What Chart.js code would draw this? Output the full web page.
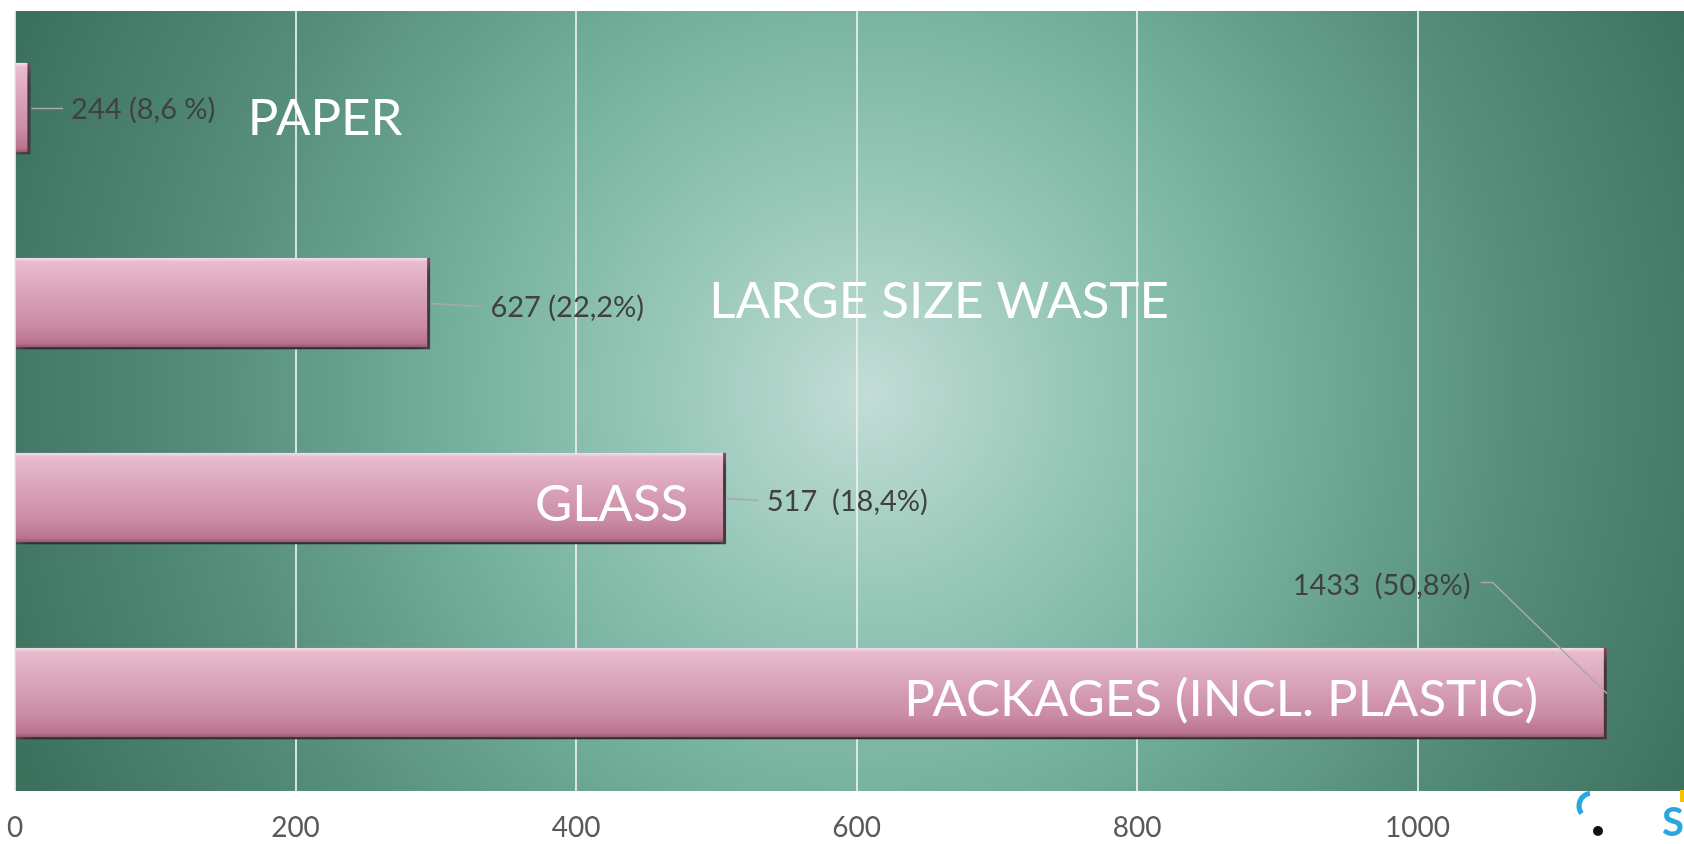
<!DOCTYPE html>
<html>
<head>
<meta charset="utf-8">
<script src="https://cdn.jsdelivr.net/npm/chart.js@4.4.0/dist/chart.umd.min.js"></script>
<style>
  html, body { margin: 0; padding: 0; background: #ffffff; }
  #wrap { width: 1684px; height: 844px; position: relative; }
</style>
</head>
<body>
<div id="wrap"><canvas id="waste-chart" width="1684" height="844"></canvas></div>
<script>
// data
var categories = ['PAPER', 'LARGE SIZE WASTE', 'GLASS', 'PACKAGES (INCL. PLASTIC)'];
var barValues = [11, 296, 507, 1135];
var valueLabels = ['244 (8,6 %)', '627 (22,2%)', '517  (18,4%)', '1433  (50,8%)'];
var xTicks = [0, 200, 400, 600, 800, 1000];

// where the texts sit (x in axis units, dy in px from the category centre)
var namePlace = [
    { x: 166, align: 'left', dy: 10 },
    { x: 495, align: 'left', dy: -2 },
    { x: 480, align: 'right', dy: 6 },
    { x: 1086, align: 'right', dy: 6 }
];
var valuePlace = [
    { x: 40, dy: 1 },
    { x: 339, dy: 4 },
    { x: 536, dy: 3 },
    { x: 911, dy: -108 }
];

function barGradient(ctx, top, bottom) {
    var g = ctx.createLinearGradient(0, top, 0, bottom);
    g.addColorStop(0, '#f8e2ec');
    g.addColorStop(0.05, '#e8bbcf');
    g.addColorStop(0.35, '#dba6bc');
    g.addColorStop(0.75, '#c98aa4');
    g.addColorStop(0.93, '#ba728e');
    g.addColorStop(1, '#7e4a5e');
    return g;
}

var backdrop = {
    id: 'backdrop',
    beforeDraw: function(chart) {
        var a = chart.chartArea, ctx = chart.ctx;
        var cx = a.left + (a.right - a.left) * 0.51, cy = a.top + (a.bottom - a.top) * 0.49;
        var g = ctx.createRadialGradient(cx, cy, 0, cx, cy, 920);
        g.addColorStop(0, '#c3ddd6');
        g.addColorStop(0.22, '#98c8b9');
        g.addColorStop(0.45, '#74b09d');
        g.addColorStop(0.7, '#578f7c');
        g.addColorStop(1, '#3b705d');
        ctx.save();
        ctx.fillStyle = g;
        ctx.fillRect(a.left, a.top, a.right - a.left, a.bottom - a.top);
        ctx.restore();
    },
    beforeDatasetsDraw: function(chart) {
        var ctx = chart.ctx;
        ctx.save();
        ctx.shadowColor = 'rgba(15,35,28,0.85)';
        ctx.shadowBlur = 12;
        ctx.shadowOffsetX = 3;
        ctx.shadowOffsetY = 8;
    },
    afterDatasetsDraw: function(chart) {
        chart.ctx.restore();
    }
};

var labelsPlugin = {
    id: 'barTexts',
    afterDraw: function(chart) {
        var ctx = chart.ctx, xs = chart.scales.x, ys = chart.scales.y;
        ctx.save();
        for (var i = 0; i < categories.length; i++) {
            var cy = ys.getPixelForValue(i);
            var end = xs.getPixelForValue(barValues[i]);

            // leader line + value
            var vp = valuePlace[i];
            var vx = xs.getPixelForValue(vp.x);
            var vy = cy + vp.dy;
            ctx.font = '29px Lato';
            var w = ctx.measureText(valueLabels[i]).width;
            ctx.strokeStyle = '#a9a9a9';
            ctx.lineWidth = 1.5;
            ctx.beginPath();
            if (vx > end) {
                ctx.moveTo(end + 1, cy);
                ctx.lineTo(vx - 8, vy - 1);
            } else {
                ctx.moveTo(vx + w + 10, vy - 3);
                ctx.lineTo(vx + w + 22, vy - 3);
                ctx.lineTo(end, cy);
            }
            ctx.stroke();

            ctx.fillStyle = '#404040';
            ctx.textAlign = 'left';
            ctx.textBaseline = 'middle';
            ctx.fillText(valueLabels[i], vx, vy);

            // category name
            var np = namePlace[i];
            ctx.fillStyle = '#ffffff';
            ctx.font = '51px Lato';
            ctx.textAlign = np.align;
            ctx.fillText(categories[i], xs.getPixelForValue(np.x), cy + np.dy);
        }

        // bits of a logo cut off in the bottom right corner
        ctx.lineWidth = 5;
        ctx.strokeStyle = '#29a8e0';
        ctx.beginPath();
        ctx.arc(1592, 806, 13, Math.PI * 0.8, Math.PI * 1.45);
        ctx.stroke();
        ctx.fillStyle = '#111111';
        ctx.beginPath();
        ctx.arc(1598, 831, 5, 0, Math.PI * 2);
        ctx.fill();
        ctx.fillStyle = '#29a8e0';
        ctx.font = 'bold 40px Lato';
        ctx.textAlign = 'left';
        ctx.textBaseline = 'alphabetic';
        ctx.fillText('S', 1662, 836);
        ctx.fillStyle = '#f2c500';
        ctx.fillRect(1680, 790, 4, 12);
        ctx.restore();
    }
};

var canvas = document.getElementById('waste-chart');
new Chart(canvas.getContext('2d'), {
    type: 'bar',
    data: {
        labels: categories,
        datasets: [{
            data: barValues,
            backgroundColor: function(c) {
                var chart = c.chart;
                if (!chart.chartArea) { return '#d49cb4'; }
                var y = chart.scales.y.getPixelForValue(c.dataIndex);
                return barGradient(chart.ctx, y - 46, y + 46);
            },
            borderColor: '#80495e',
            borderWidth: { top: 0, left: 0, right: 3, bottom: 2 },
            borderSkipped: false,
            categoryPercentage: 1,
            barPercentage: 0.47
        }]
    },
    options: {
        indexAxis: 'y',
        responsive: false,
        animation: false,
        layout: { padding: { left: 15, top: 11, right: 0, bottom: 0 } },
        scales: {
            x: {
                min: 0,
                max: 1190,
                afterBuildTicks: function(axis) {
                    axis.ticks = xTicks.map(function(v) { return { value: v }; });
                },
                afterFit: function(axis) {
                    axis.height = 53;
                    axis.paddingLeft = 0;
                    axis.paddingRight = 0;
                },
                grid: { color: 'rgba(235,240,238,0.85)', lineWidth: 2, drawTicks: false },
                border: { display: false },
                ticks: {
                    color: '#595959',
                    font: { family: 'Lato', size: 28 },
                    padding: 20,
                    callback: function(v) { return String(v); }
                }
            },
            y: { display: false }
        },
        plugins: {
            legend: { display: false },
            tooltip: { enabled: false }
        }
    },
    plugins: [backdrop, labelsPlugin]
});
</script>
</body>
</html>
